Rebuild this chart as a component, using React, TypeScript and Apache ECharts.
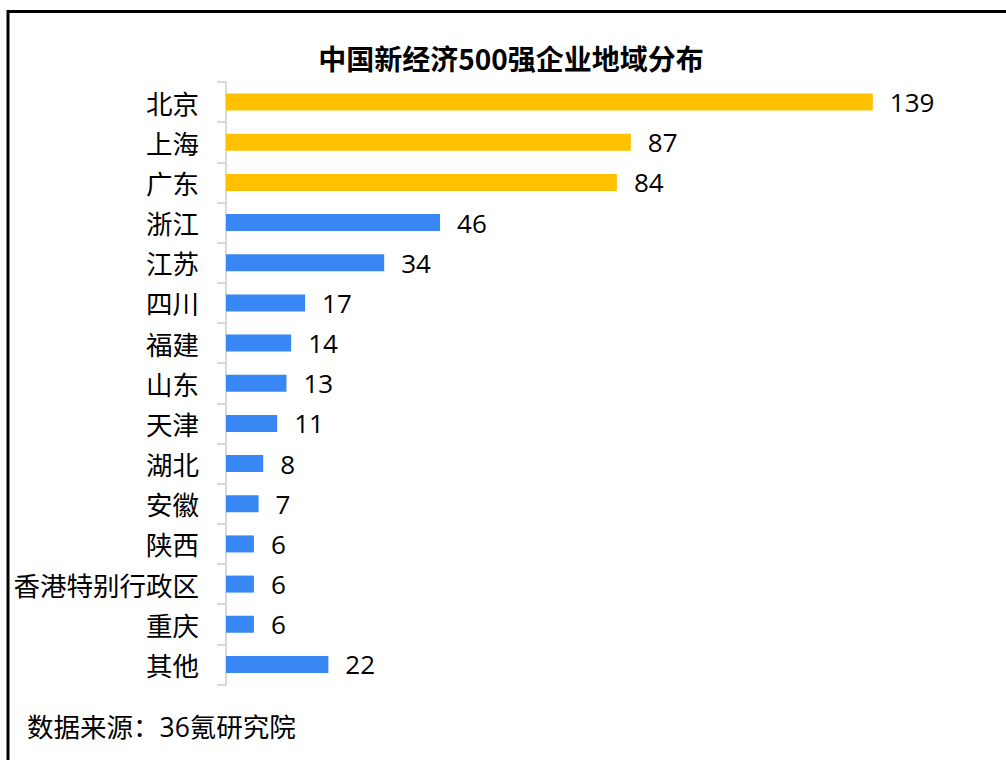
import React, { useEffect, useRef } from "react";
import * as echarts from "echarts";

const categories = ["北京", "上海", "广东", "浙江", "江苏", "四川", "福建", "山东", "天津", "湖北", "安徽", "陕西", "香港特别行政区", "重庆", "其他"];
const values = [139, 87, 84, 46, 34, 17, 14, 13, 11, 8, 7, 6, 6, 6, 22];
const highlightCount = 3;
const titleText = "中国新经济500强企业地域分布";
const sourceText = "数据来源：36氪研究院";

const YELLOW = "#FFC000";
const BLUE = "#3887F5";
const FONT = "'Noto Sans CJK SC', 'Noto Sans', sans-serif";
const NUMFONT = "'Open Sans', 'Noto Sans CJK SC', sans-serif";

export default function App() {
  const ref = useRef<HTMLDivElement>(null);
  useEffect(() => {
    if (!ref.current) return;
    const chart = echarts.init(ref.current, null, { renderer: "svg" });
    chart.setOption({
      animation: false,
      backgroundColor: "#ffffff",
      textStyle: { fontFamily: FONT },
      grid: { left: 226, top: 82, height: 602.5, right: 82, containLabel: false },
      xAxis: {
        type: "value",
        min: 0,
        max: 150,
        show: false,
      },
      yAxis: {
        type: "category",
        inverse: true,
        data: categories,
        axisLine: { show: true, lineStyle: { color: "#D9D9D9", width: 2 } },
        axisTick: { show: true, length: 9, lineStyle: { color: "#D9D9D9", width: 2 } },
        axisLabel: { fontSize: 26.5, color: "#000", margin: 27, fontFamily: FONT },
      },
      series: [
        {
          type: "bar",
          barWidth: 17,
          data: values.map((v, i) => ({
            value: v,
            itemStyle: { color: i < highlightCount ? YELLOW : BLUE },
          })),
          label: {
            show: true,
            position: "right",
            distance: 17,
            fontSize: 26,
            color: "#000",
            fontFamily: NUMFONT,
          },
        },
      ],
      graphic: [
        {
          type: "rect",
          shape: { x: 8, y: 11.5, width: 1020, height: 800 },
          style: { fill: "none", stroke: "#000", lineWidth: 3 },
          silent: true,
        },
        {
          type: "text",
          x: 511,
          y: 58,
          style: {
            text: titleText,
            fill: "#000",
            font: `bold 28px ${FONT}`,
            textAlign: "center",
            textVerticalAlign: "middle",
          },
        },
        {
          type: "text",
          x: 27,
          y: 727,
          style: {
            text: sourceText,
            fill: "#000",
            font: `26.5px ${NUMFONT}`,
            textAlign: "left",
            textVerticalAlign: "middle",
          },
        },
      ],
    });
    return () => chart.dispose();
  }, []);
  return (
    <div
      ref={ref}
      style={{ position: "fixed", left: 0, top: 0, width: 1006, height: 760 }}
    />
  );
}
